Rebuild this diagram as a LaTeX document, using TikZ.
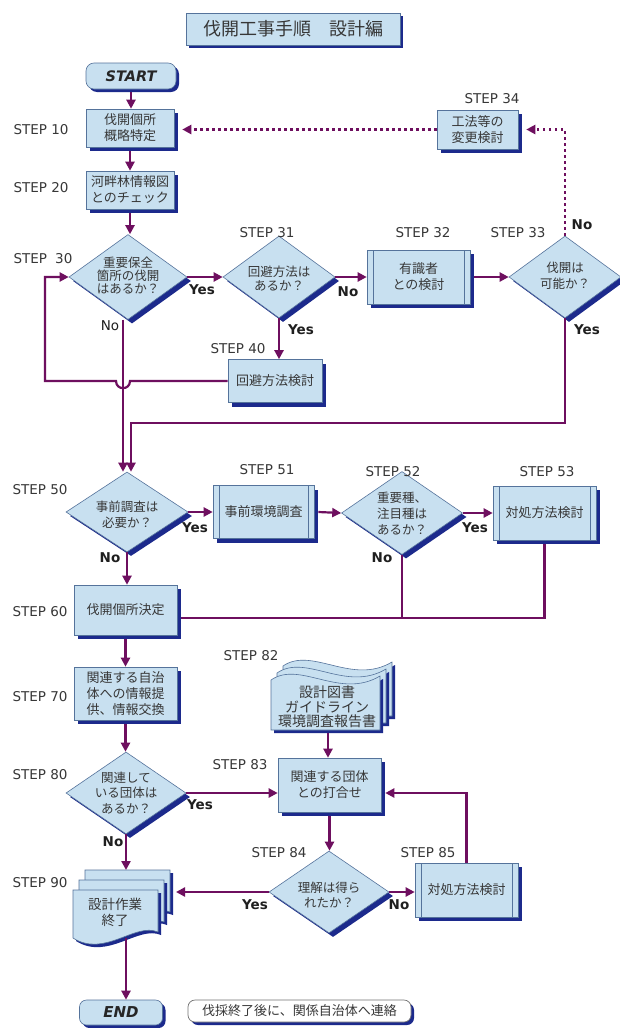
\documentclass[tikz,border=0pt]{standalone}
\usepackage{fontspec}
\usetikzlibrary{shapes.geometric,arrows.meta,shadows}
\newfontfamily\jp{Noto Sans CJK JP}
\newfontfamily\lat{DejaVu Sans}[BoldFont={DejaVu Sans Bold},ItalicFont={DejaVu Sans Oblique},BoldItalicFont={DejaVu Sans Bold Oblique}]
\definecolor{boxfill}{RGB}{200,224,240}
\definecolor{boxline}{RGB}{85,115,155}
\definecolor{shblue}{RGB}{28,42,140}
\definecolor{arr}{RGB}{110,15,95}
\definecolor{txt}{RGB}{55,55,55}
\tikzset{
  sh/.style={drop shadow={shadow xshift=4pt,shadow yshift=-4pt,opacity=1,fill=shblue}},
  sh3/.style={drop shadow={shadow xshift=3pt,shadow yshift=-3pt,opacity=1,fill=shblue}},
  boxbase/.style={rectangle,draw=boxline,line width=0.6pt,fill=boxfill,inner sep=0pt,align=center,text=txt,font=\jp\fontsize{13}{16}\selectfont},
  box/.style={boxbase,sh},
  pbox/.style={box,path picture={
     \draw[draw=boxline,line width=0.6pt] ([xshift=6pt]path picture bounding box.north west) -- ([xshift=6pt]path picture bounding box.south west);
     \draw[draw=boxline,line width=0.6pt] ([xshift=-6pt]path picture bounding box.north east) -- ([xshift=-6pt]path picture bounding box.south east);}},
  dia/.style={diamond,draw=boxline,line width=0.6pt,fill=boxfill,inner sep=0pt,sh},
  dtext/.style={align=center,inner sep=0pt,text=txt,font=\jp\fontsize{12.5}{15.5}\selectfont},
  lab/.style={inner sep=0pt,text=txt,font=\lat\fontsize{13.5}{15}\selectfont},
  yn/.style={inner sep=0pt,text=black!88,font=\lat\bfseries\fontsize{13.5}{15}\selectfont},
  conn/.style={draw=arr,line width=2.2pt,-{Triangle[length=9pt,width=9pt]}},
  wire/.style={draw=arr,line width=2.2pt},
  dotconn/.style={draw=arr,line width=2.4pt,dash pattern=on 2.6pt off 3.4pt,-{Triangle[length=9pt,width=9pt]}},
  docshape/.style={fill=boxfill,draw=boxline,line width=0.6pt},
}
\begin{document}
\begin{tikzpicture}[x=1pt,y=-1pt]
\useasboundingbox (0,0) rectangle (620,1028);
\fill[white] (0,0) rectangle (620,1028);

% ---------- title and start
\node[boxbase,sh3,minimum width=214,minimum height=32,font=\jp\fontsize{18}{20}\selectfont] (title) at (293,29) {伐開工事手順　設計編};
\node[boxbase,sh3,rounded corners=8pt,minimum width=90,minimum height=26,text=black!85,font=\lat\bfseries\itshape\fontsize{14.5}{16}\selectfont] (start) at (131,76) {START};

% ---------- top part
\node[box,minimum width=88,minimum height=38] (s10) at (130,128) {伐開個所\\概略特定};
\node[box,minimum width=88,minimum height=38] (s20) at (130,190) {河畔林情報図\\とのチェック};
\node[dia,minimum width=118,minimum height=85] (d30) at (128,277) {};
\node[dtext,font=\jp\fontsize{12.5}{13}\selectfont] (t30) at (128,276) {重要保全\\箇所の伐開\\はあるか？};
\node[dia,minimum width=112,minimum height=82] (d31) at (279,277) {};
\node[dtext,font=\jp\fontsize{12.5}{14}\selectfont] (t31) at (279,279) {回避方法は\\あるか？};
\node[pbox,minimum width=103,minimum height=54] (s32) at (418.5,277) {有識者\\との検討};
\node[dia,minimum width=112,minimum height=82] (d33) at (565,277) {};
\node[dtext,font=\jp\fontsize{12.5}{16}\selectfont] (t33) at (565,276) {伐開は\\可能か？};
\node[box,minimum width=81,minimum height=39] (s34) at (477.5,129.5) {工法等の\\変更検討};
\node[box,minimum width=94,minimum height=43] (s40) at (275,381) {回避方法検討};

% ---------- middle part
\node[dia,minimum width=122,minimum height=80] (d50) at (127,512) {};
\node[dtext,font=\jp\fontsize{12.5}{16}\selectfont] (t50) at (127,515) {事前調査は\\必要か？};
\node[pbox,minimum width=101,minimum height=53] (s51) at (263.5,512) {事前環境調査};
\node[dia,minimum width=121,minimum height=83] (d52) at (402,513) {};
\node[dtext,font=\jp\fontsize{12.5}{16}\selectfont] (t52) at (402,514) {重要種、\\注目種は\\あるか？};
\node[pbox,minimum width=103,minimum height=54] (s53) at (544.5,513) {対処方法検討};
\node[box,minimum width=103,minimum height=50] (s60) at (125.5,610) {伐開個所決定};
\node[box,minimum width=103,minimum height=53] (s70) at (125.5,693.5) {関連する自治\\体への情報提\\供、情報交換};
\node[dia,minimum width=120,minimum height=82] (d80) at (126,793) {};
\node[dtext,font=\jp\fontsize{12.5}{15.5}\selectfont] (t80) at (126,793) {関連して\\いる団体は\\あるか？};

% ---------- documents STEP 82
\foreach \k in {2,1,0}{
  \begin{scope}[shift={(6*\k,-7*\k)}]
    \fill[shblue] (274,733) -- (274,683) .. controls (303,663) and (343,703) .. (383,679) -- (383,733) -- cycle;
    \path[docshape] (271,730) -- (271,680) .. controls (300,660) and (340,700) .. (380,676) -- (380,730) -- cycle;
  \end{scope}
}
\node[dtext,font=\jp\fontsize{14}{14.5}\selectfont] (t82) at (327,707) {設計図書\\ガイドライン\\環境調査報告書};
\coordinate (doc82bot) at (328,733);

\node[box,minimum width=103,minimum height=54] (s83) at (329.5,785) {関連する団体\\との打合せ};
\node[dia,minimum width=120,minimum height=82] (d84) at (329,892) {};
\node[dtext,font=\jp\fontsize{12.5}{15}\selectfont] (t84) at (329,895) {理解は得ら\\れたか？};
\node[pbox,minimum width=103,minimum height=54] (s85) at (466.5,890) {対処方法検討};

% ---------- documents STEP 90
\foreach \k in {2,1,0}{
  \begin{scope}[shift={(6*\k,-10*\k)}]
    \fill[shblue] (76,893) -- (161,893) -- (161,935) .. controls (138,925) and (108,961) .. (76,941) -- cycle;
    \path[docshape] (73,890) -- (158,890) -- (158,932) .. controls (135,922) and (105,958) .. (73,938) -- cycle;
  \end{scope}
}
\node[dtext,font=\jp\fontsize{13.5}{16}\selectfont] (t90) at (115,912) {設計作業\\終了};
\coordinate (doc90top) at (126,870);
\coordinate (doc90bot) at (126,938);
\coordinate (doc90right) at (176,892);

% ---------- end and note
\node[boxbase,sh3,rounded corners=7pt,minimum width=83,minimum height=25,text=black!85,font=\lat\bfseries\itshape\fontsize{15}{16}\selectfont] (end) at (121,1012.5) {END};
\node[rectangle,rounded corners=7pt,draw=black!55,line width=0.7pt,fill=white,sh3,minimum width=223,minimum height=22,inner sep=0pt,text=txt,font=\jp\fontsize{13}{15}\selectfont] (note) at (299.5,1011) {伐採終了後に、関係自治体へ連絡};

% ---------- step labels
\node[lab] (l10) at (41,130) {STEP 10};
\node[lab] (l20) at (41,188) {STEP 20};
\node[lab] (l30) at (43,259) {STEP\hspace{0.6em}30};
\node[lab] (l31) at (267,233) {STEP 31};
\node[lab] (l32) at (423,233) {STEP 32};
\node[lab] (l33) at (518,233) {STEP 33};
\node[lab] (l34) at (492,99) {STEP 34};
\node[lab] (l40) at (238,349) {STEP 40};
\node[lab] (l50) at (40,490) {STEP 50};
\node[lab] (l51) at (267,470) {STEP 51};
\node[lab] (l52) at (393,472) {STEP 52};
\node[lab] (l53) at (547,472) {STEP 53};
\node[lab] (l60) at (40,612) {STEP 60};
\node[lab] (l70) at (40,697) {STEP 70};
\node[lab] (l80) at (40,775) {STEP 80};
\node[lab] (l82) at (251,656) {STEP 82};
\node[lab] (l83) at (240,765) {STEP 83};
\node[lab] (l84) at (279,853) {STEP 84};
\node[lab] (l85) at (428,853) {STEP 85};
\node[lab] (l90) at (40,883) {STEP 90};

% ---------- yes / no
\node[yn] (y30) at (202,290) {Yes};
\node[lab,text=black!88] (n30) at (110,326) {No};
\node[yn] (y31) at (301,330) {Yes};
\node[yn] (n31) at (348,292) {No};
\node[yn] (n33) at (582,225) {No};
\node[yn] (y33) at (587,330) {Yes};
\node[yn] (y50) at (195,528) {Yes};
\node[yn] (n50) at (110,558) {No};
\node[yn] (y52) at (475,528) {Yes};
\node[yn] (n52) at (382,558) {No};
\node[yn] (y80) at (200,805) {Yes};
\node[yn] (n80) at (113,842) {No};
\node[yn] (y84) at (255,905) {Yes};
\node[yn] (n84) at (399,905) {No};

% ---------- connectors
\coordinate (hopR) at (130,381);
\coordinate (hopL) at (116,381);
\coordinate (loopc) at (45,381);
\coordinate (jn) at (131,423);
\coordinate (j60) at (181,618);

\draw[conn] ([yshift=-3pt]start.south) -- (start.south |- s10.north);
\draw[conn] ([yshift=-4pt]s10.south) -- (s20.north);
\draw[conn] ([yshift=-4pt]s20.south) -- (s20.south |- d30.north);
\draw[conn] (d30.east) -- (d31.west);
\draw[conn] (d31.east) -- (s32.west);
\draw[conn] ([xshift=4pt]s32.east) -- (d33.west);
\draw[conn] (d31.south) -- (d31.south |- s40.north);
\draw[conn] (s40.west) -- (hopR) .. controls (130,390.5) and (116,390.5) .. (hopL) -- (loopc) |- (d30.west);
\draw[dotconn,shorten >=8pt] (d33.north) |- (s34.east);
\draw[dotconn,shorten >=8pt] (s34.west) -- (s34.west -| s10.east);
\draw[conn] (d33.south) |- (jn) -- ([xshift=4pt]d50.north);
\draw[conn] ([xshift=-5pt]d30.south) -- ([xshift=-4pt]d50.north);

\draw[conn] (d50.east) -- (s51.west);
\draw[conn] ([xshift=4pt]s51.east) -- (d52.west);
\draw[conn] (d52.east) -- (s53.west);
\draw[conn] (d50.south) -- (d50.south |- s60.north);
\draw[wire] (d52.south) -- (d52.south |- j60);
\draw[wire] ([yshift=-4pt]s53.south) |- (j60);

\draw[conn] ([yshift=-4pt]s60.south) -- (s70.north);
\draw[conn] ([yshift=-4pt]s70.south) -- (s70.south |- d80.north);
\draw[conn] (d80.east) -- (d80.east -| s83.west);
\draw[conn] (d80.south) -- (d80.south |- doc90top);
\draw[conn] (doc82bot) -- (doc82bot |- s83.north);
\draw[conn] ([yshift=-4pt]s83.south) -- (s83.south |- d84.north);
\draw[conn] (d84.west) -- (doc90right);
\draw[conn] (d84.east) -- (d84.east -| s85.west);
\draw[conn] (s85.north) |- ([xshift=4pt,yshift=-8pt]s83.east);
\draw[conn] (doc90bot) -- (doc90bot |- end.north);
\end{tikzpicture}
\end{document}
